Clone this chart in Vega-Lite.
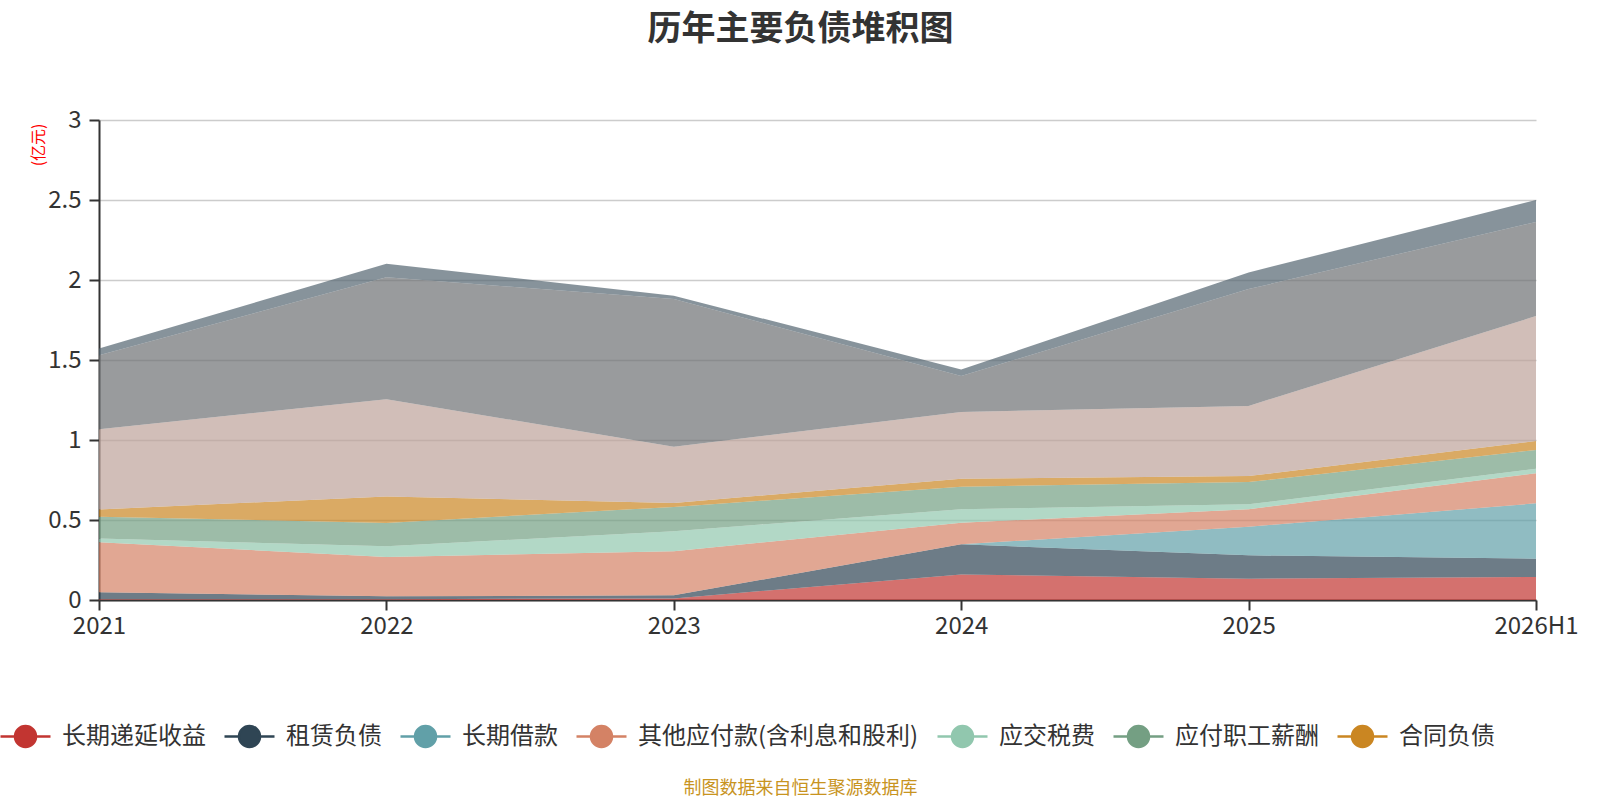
{
  "$schema": "https://vega.github.io/schema/vega-lite/v6.json",
  "description": "历年主要负债堆积图",
  "autosize": {"type": "none"},
  "width": 1437,
  "height": 480,
  "padding": {"left": 99, "top": 120, "right": 64, "bottom": 200},
  "background": "white",
  "title": {
    "text": "历年主要负债堆积图",
    "font": "Noto Sans CJK SC",
    "fontSize": 34,
    "fontWeight": "bold",
    "color": "#333333",
    "anchor": "middle",
    "frame": "group",
    "baseline": "bottom",
    "offset": 27,
    "dx": -17
  },
  "config": {
    "font": "Noto Sans CJK SC",
    "view": {"stroke": null},
    "axis": {
      "labelFont": "Noto Sans CJK SC",
      "labelFontSize": 24,
      "labelColor": "#333333",
      "domainColor": "#333333",
      "domainWidth": 2,
      "tickColor": "#333333",
      "tickWidth": 2,
      "tickSize": 10
    }
  },
  "data": {
    "values": [
      {"period": "2021", "item": "长期递延收益", "idx": 0, "value": 0.005},
      {"period": "2021", "item": "租赁负债", "idx": 1, "value": 0.043},
      {"period": "2021", "item": "长期借款", "idx": 2, "value": 0},
      {"period": "2021", "item": "其他应付款(含利息和股利)", "idx": 3, "value": 0.313},
      {"period": "2021", "item": "应交税费", "idx": 4, "value": 0.023},
      {"period": "2021", "item": "应付职工薪酬", "idx": 5, "value": 0.136},
      {"period": "2021", "item": "合同负债", "idx": 6, "value": 0.046},
      {"period": "2021", "item": "应付票据及应付账款", "idx": 7, "value": 0.501},
      {"period": "2021", "item": "短期借款", "idx": 8, "value": 0.463},
      {"period": "2021", "item": "一年内到期的非流动负债", "idx": 9, "value": 0.042},

      {"period": "2022", "item": "长期递延收益", "idx": 0, "value": 0.005},
      {"period": "2022", "item": "租赁负债", "idx": 1, "value": 0.018},
      {"period": "2022", "item": "长期借款", "idx": 2, "value": 0},
      {"period": "2022", "item": "其他应付款(含利息和股利)", "idx": 3, "value": 0.246},
      {"period": "2022", "item": "应交税费", "idx": 4, "value": 0.067},
      {"period": "2022", "item": "应付职工薪酬", "idx": 5, "value": 0.146},
      {"period": "2022", "item": "合同负债", "idx": 6, "value": 0.165},
      {"period": "2022", "item": "应付票据及应付账款", "idx": 7, "value": 0.608},
      {"period": "2022", "item": "短期借款", "idx": 8, "value": 0.762},
      {"period": "2022", "item": "一年内到期的非流动负债", "idx": 9, "value": 0.085},

      {"period": "2023", "item": "长期递延收益", "idx": 0, "value": 0.01},
      {"period": "2023", "item": "租赁负债", "idx": 1, "value": 0.019},
      {"period": "2023", "item": "长期借款", "idx": 2, "value": 0},
      {"period": "2023", "item": "其他应付款(含利息和股利)", "idx": 3, "value": 0.276},
      {"period": "2023", "item": "应交税费", "idx": 4, "value": 0.125},
      {"period": "2023", "item": "应付职工薪酬", "idx": 5, "value": 0.152},
      {"period": "2023", "item": "合同负债", "idx": 6, "value": 0.025},
      {"period": "2023", "item": "应付票据及应付账款", "idx": 7, "value": 0.351},
      {"period": "2023", "item": "短期借款", "idx": 8, "value": 0.923},
      {"period": "2023", "item": "一年内到期的非流动负债", "idx": 9, "value": 0.021},

      {"period": "2024", "item": "长期递延收益", "idx": 0, "value": 0.16},
      {"period": "2024", "item": "租赁负债", "idx": 1, "value": 0.188},
      {"period": "2024", "item": "长期借款", "idx": 2, "value": 0},
      {"period": "2024", "item": "其他应付款(含利息和股利)", "idx": 3, "value": 0.135},
      {"period": "2024", "item": "应交税费", "idx": 4, "value": 0.084},
      {"period": "2024", "item": "应付职工薪酬", "idx": 5, "value": 0.141},
      {"period": "2024", "item": "合同负债", "idx": 6, "value": 0.05},
      {"period": "2024", "item": "应付票据及应付账款", "idx": 7, "value": 0.417},
      {"period": "2024", "item": "短期借款", "idx": 8, "value": 0.225},
      {"period": "2024", "item": "一年内到期的非流动负债", "idx": 9, "value": 0.04},

      {"period": "2025", "item": "长期递延收益", "idx": 0, "value": 0.133},
      {"period": "2025", "item": "租赁负债", "idx": 1, "value": 0.146},
      {"period": "2025", "item": "长期借款", "idx": 2, "value": 0.179},
      {"period": "2025", "item": "其他应付款(含利息和股利)", "idx": 3, "value": 0.109},
      {"period": "2025", "item": "应交税费", "idx": 4, "value": 0.031},
      {"period": "2025", "item": "应付职工薪酬", "idx": 5, "value": 0.139},
      {"period": "2025", "item": "合同负债", "idx": 6, "value": 0.038},
      {"period": "2025", "item": "应付票据及应付账款", "idx": 7, "value": 0.438},
      {"period": "2025", "item": "短期借款", "idx": 8, "value": 0.73},
      {"period": "2025", "item": "一年内到期的非流动负债", "idx": 9, "value": 0.104},

      {"period": "2026H1", "item": "长期递延收益", "idx": 0, "value": 0.144},
      {"period": "2026H1", "item": "租赁负债", "idx": 1, "value": 0.114},
      {"period": "2026H1", "item": "长期借款", "idx": 2, "value": 0.346},
      {"period": "2026H1", "item": "其他应付款(含利息和股利)", "idx": 3, "value": 0.188},
      {"period": "2026H1", "item": "应交税费", "idx": 4, "value": 0.029},
      {"period": "2026H1", "item": "应付职工薪酬", "idx": 5, "value": 0.117},
      {"period": "2026H1", "item": "合同负债", "idx": 6, "value": 0.056},
      {"period": "2026H1", "item": "应付票据及应付账款", "idx": 7, "value": 0.781},
      {"period": "2026H1", "item": "短期借款", "idx": 8, "value": 0.588},
      {"period": "2026H1", "item": "一年内到期的非流动负债", "idx": 9, "value": 0.137}
    ]
  },
  "mark": {"type": "area", "opacity": 0.7, "strokeWidth": 0},
  "encoding": {
    "x": {
      "field": "period",
      "type": "ordinal",
      "sort": ["2021", "2022", "2023", "2024", "2025", "2026H1"],
      "scale": {"type": "point", "padding": 0},
      "axis": {
        "labelAngle": 0,
        "labelPadding": 4,
        "grid": false,
        "title": "制图数据来自恒生聚源数据库",
        "titleColor": "#c8941f",
        "titleFontSize": 18,
        "titleFontWeight": "normal",
        "titleX": 701,
        "titleY": 188,
        "titleAlign": "center",
        "titleBaseline": "middle"
      }
    },
    "y": {
      "field": "value",
      "type": "quantitative",
      "aggregate": "sum",
      "stack": "zero",
      "scale": {"domain": [0, 3]},
      "axis": {
        "values": [0, 0.5, 1, 1.5, 2, 2.5, 3],
        "format": "~g",
        "labelPadding": 8,
        "grid": true,
        "gridColor": "#cccccc",
        "gridWidth": 1.5,
        "title": "(亿元)",
        "titleColor": "#ff0000",
        "titleFontSize": 16,
        "titleFontWeight": "normal",
        "titleAngle": -90,
        "titleX": -61,
        "titleY": 3,
        "titleAlign": "right",
        "titleBaseline": "middle"
      }
    },
    "color": {
      "field": "item",
      "type": "nominal",
      "scale": {
        "domain": ["长期递延收益", "租赁负债", "长期借款", "其他应付款(含利息和股利)", "应交税费", "应付职工薪酬", "合同负债", "应付票据及应付账款", "短期借款", "一年内到期的非流动负债"],
        "range": ["#c23531", "#2f4554", "#61a0a8", "#d48265", "#91c7ae", "#749f83", "#ca8622", "#bda29a", "#6e7074", "#546570"]
      },
      "legend": {
        "orient": "none",
        "legendX": -100,
        "legendY": 590,
        "direction": "horizontal",
        "title": null,
        "values": ["长期递延收益", "租赁负债", "长期借款", "其他应付款(含利息和股利)", "应交税费", "应付职工薪酬", "合同负债"],
        "symbolType": "M-1,0L-0.42,0M0.42,0L1,0M-0.42,0A0.42,0.42,0,1,1,0.42,0A0.42,0.42,0,1,1,-0.42,0Z",
        "symbolSize": 2500,
        "symbolStrokeWidth": 2.5,
        "symbolOpacity": 1,
        "labelFont": "Noto Sans CJK SC",
        "labelFontSize": 24,
        "labelColor": "#333333",
        "labelOffset": 10,
        "labelLimit": 400,
        "columnPadding": 13,
        "encode": {
          "symbols": {
            "update": {
              "stroke": {"scale": "color", "field": "value"},
              "fill": {"scale": "color", "field": "value"},
              "opacity": {"value": 1}
            }
          }
        }
      }
    },
    "order": {"field": "idx", "type": "quantitative", "sort": "ascending"},
    "tooltip": [
      {"field": "period", "type": "ordinal", "title": "年份"},
      {"field": "item", "type": "nominal", "title": "项目"},
      {"field": "value", "type": "quantitative", "aggregate": "sum", "title": "亿元"}
    ]
  }
}
